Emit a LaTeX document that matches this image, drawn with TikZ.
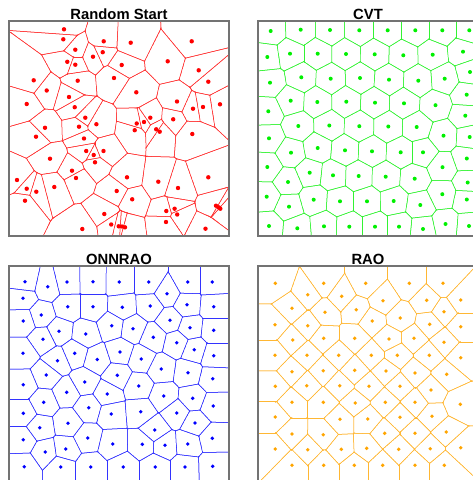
\documentclass[tikz,border=0pt]{standalone}
\usepackage{fontspec}
\setmainfont{Liberation Sans}
\definecolor{vred}{RGB}{255,0,0}
\definecolor{vgreen}{RGB}{0,240,0}
\definecolor{vblue}{RGB}{0,0,255}
\definecolor{vorange}{RGB}{255,165,0}
\newif\ifvoruse
\newdimen\vdx \newdimen\vdy
\newcommand\vortest[1]{%
  \vorusefalse
  \ifdim\ifdim\vdx<0pt -\fi\vdx<#1pt
    \ifdim\ifdim\vdy<0pt -\fi\vdy<#1pt
      \ifdim\vdx=0pt \ifdim\vdy=0pt \else\vorusetrue\fi\else\vorusetrue\fi
    \fi
  \fi}
\newcommand\vorseg[5]{\draw[cm={#1,#2,#3,#1,(#4,#5)}] (0,-600)--(0,600);}
% #1 line colour, #2 dot colour, #3 cutoff, #4 #5 frame corners, #6 points, #7 dot radius
\newcommand\vorpanel[7]{%
  \foreach \ax/\ay in {#6}{%
    \begin{scope}[draw=#1!80, line width=0.5pt]
      \clip #4 rectangle #5;
      \gdef\vorlist{}%
      \foreach \bx/\by in {#6}{%
        \vdx=\dimexpr\bx pt-\ax pt\relax
        \vdy=\dimexpr\by pt-\ay pt\relax
        \vortest{#3}%
        \ifvoruse
          \pgfmathsetmacro\dd{veclen(\vdx,\vdy)}%
          \pgfmathsetmacro\ux{\vdx/\dd}%
          \pgfmathsetmacro\uy{-\vdy/\dd}%
          \pgfmathsetmacro\nuy{\vdy/\dd}%
          \pgfmathsetmacro\mx{(\ax+\bx)/2}%
          \pgfmathsetmacro\my{(\ay+\by)/2}%
          \clip[cm={\ux,\uy,\nuy,\ux,(\mx,\my)}] (-600,-600) rectangle (0.4,600);
          \xdef\vorlist{\unexpanded\expandafter{\vorlist}\noexpand\vorseg{\ux}{\uy}{\nuy}{\mx}{\my}}%
        \fi
      }%
      \vorlist
    \end{scope}
  }%
  \foreach \ax/\ay in {#6}{\fill[#2] (\ax,\ay) circle[radius=#7];}%
}
\tikzset{
  frame/.style={draw=black!55, line width=1.2pt},
  title/.style={font=\bfseries\fontsize{14.8}{16}\selectfont, anchor=base, inner sep=0pt}
}
\begin{document}
\begin{tikzpicture}[x=1pt,y=-1pt]
\useasboundingbox (0,0) rectangle (473,480);
\fill[white] (0,0) rectangle (473,480);
% Random start
\vorpanel{vred}{vred}{110}{(9,21)}{(229,236)}{64/29.3, 63.3/39.3, 103.7/41.3, 130.7/42.7, 191.7/41.3, 75.3/49.7, 102.7/52.2, 93/56.7, 67.3/61.8, 75.3/64.7, 121.7/65, 167.7/61.3, 198.7/70.3, 33.7/80.3, 77.7/80.7, 114/78, 208.3/81.7, 46.7/90.5, 136.3/92.3, 69/97, 26.7/104, 177/101.5, 74.7/107.2, 193/108.7, 203/107, 220/104.3, 85.3/117.7, 150.3/117.7, 173.2/119.3, 136.7/123.5, 144/122, 96.4/124.2, 45/127.8, 79/126.7, 134.7/130.2, 156.2/129.3, 159.7/131.7, 192.3/134, 36/136.7, 84/138.5, 86.2/151, 103.5/151, 93.7/155, 95/162.3, 50/158.7, 72/170.7, 76/178, 127/177.3, 208.3/177.3, 17/180, 158.3/181.7, 26.7/188.7, 54.3/187, 178/188, 36.3/191.7, 116.7/191, 25/200.7, 132.2/199.3, 216/205.7, 218.7/207.3, 220.3/208.7, 174.6/208.7, 166.3/211, 177.2/214.5, 104.3/214, 166/222, 111.2/224.5, 118.7/226.3, 122/226.5, 125/227.3, 82.3/229, 205.5/228.7}{2.2pt}
% CVT
\vorpanel{vgreen}{vgreen}{70}{(258,21)}{(478,236)}{270.7/31, 300.7/29.7, 330/30, 359.3/30.3, 387.7/30.3, 415.3/30.3, 442.3/30.3, 469.3/30.3, 267.3/57, 290/53.7, 317.7/53.7, 346/54, 374.7/54.3, 403.3/55.3, 432.7/54.7, 463/51.7, 270/82.7, 301.3/77.3, 330.7/78.7, 360/78, 389/79.7, 418.3/80.7, 444.7/78.7, 470/72, 268.3/111.3, 290.7/100.7, 317.3/102, 346.3/101.7, 375/102.7, 404/103.3, 435.5/105.2, 466.7/94.7, 465.3/115.7, 298.3/126, 329.3/125.5, 359.3/126.2, 388.3/126.5, 416.7/127, 443.5/135.7, 469.7/137, 269/138.3, 291/152.7, 317.7/148, 345/150.3, 372/151.3, 400.7/152.3, 423/152.3, 466.8/158.5, 267.3/167, 442.5/167.2, 309.7/172.7, 333/175.3, 358.7/176, 385.7/176.7, 414.7/178.7, 288/182, 467.7/182.5, 266.7/196.7, 313.7/199.7, 340/201.3, 367/201.3, 393.7/201, 442.3/194.2, 289/206.7, 420.3/205, 466.8/199.5, 269/226, 297.3/228.3, 324/226.3, 349.3/226.7, 375/226.7, 399/226.7, 423/229, 445.5/224, 469/226}{2pt}
% ONNRAO
\vorpanel{vblue}{vblue}{70}{(9,266)}{(229,481)}{25/281.7, 47.7/286.7, 67/282, 93/281.7, 119.3/282, 148.7/282, 187.7/282, 212.3/282, 167/293.7, 23/298.3, 67.7/306.7, 93/306.7, 122.3/307.3, 150.3/306, 187/304.7, 213.7/306.7, 41.3/315, 23.3/321, 111.7/325.7, 133/328.7, 170/320.3, 190/327.7, 213.7/330.3, 59/331.3, 85.7/334, 153.3/337.3, 43/339.3, 176.7/342.7, 194.3/349.7, 74.7/353.3, 23/353.3, 97.3/359.5, 120/352, 141.3/359, 213.7/355.7, 57.5/360.7, 46.3/375, 161.3/369, 188/372.7, 212.7/378.7, 117.3/375.3, 84.7/382, 23.3/384.7, 138.7/386, 66.7/392.3, 107.3/394, 163.7/396, 192.7/398.3, 43.7/402.3, 213.3/406, 88.7/407.7, 140.7/411.7, 176.7/413, 23.3/413.3, 111.3/414, 68/423.3, 195/423, 39.7/427.7, 154.7/430, 23.3/439.7, 87.7/438, 212.3/438.3, 112.7/444, 142.3/444.3, 165/445.3, 187.7/444, 45.3/452, 65.7/449, 24.3/466.7, 60.7/467, 90.7/467, 123.3/467, 155.3/467, 185/467, 212.7/466.3}{1.9pt}
% RAO
\vorpanel{vorange}{vorange}{70}{(258,266)}{(478,481)}{275.3/283.3, 323.7/283.3, 365.7/283.3, 409.3/283.3, 443/283.3, 307.7/294.7, 341.7/296.3, 426.7/300.3, 460.7/300, 383/300.7, 292/308.3, 356.3/309.7, 325/312.3, 444/311.7, 400.3/318, 372.3/321, 275/324.7, 307.7/325.7, 429.7/324.3, 460.7/326.7, 323.7/338.3, 354.7/338.3, 389/339, 292.7/340, 414/338.3, 444/342.3, 275/355.3, 307/355.3, 338.7/355.3, 371.3/355.3, 397.3/355.3, 429.3/355.3, 460.7/357.7, 292/371.7, 323.3/370.7, 354.7/370.3, 386/371, 415/373, 446.7/374.3, 275.3/386.3, 306.7/385.7, 339.7/385.7, 369/386.3, 400/386.3, 431/390, 292/402.3, 323.3/402.3, 355.3/403, 385.3/402.3, 415/402.3, 460.3/404.3, 275.3/417, 340/419.3, 367.7/419, 400/417.3, 432/416.3, 292/434, 323.3/434.7, 384.7/433.3, 415/433.3, 446.3/432, 275.3/449, 307.7/449.7, 341.3/449.3, 366.7/448.3, 398.7/449.3, 430.3/448.7, 460.7/447.7, 292/465.3, 323.7/465.3, 354.3/465.3, 382.7/465.3, 415/465.3, 444.3/465.3}{1.9pt}
% frames
\draw[frame] (9,21) rectangle (229,236);
\draw[frame] (258,21) rectangle (478,236);
\draw[frame] (9,266) rectangle (229,481);
\draw[frame] (258,266) rectangle (478,481);
% titles
\node[title] (t1) at (119,19.4) {Random Start};
\node[title] (t2) at (368,19.4) {CVT};
\node[title] (t3) at (119,264.4) {ONNRAO};
\node[title] (t4) at (368,264.4) {RAO};
\end{tikzpicture}
\end{document}
